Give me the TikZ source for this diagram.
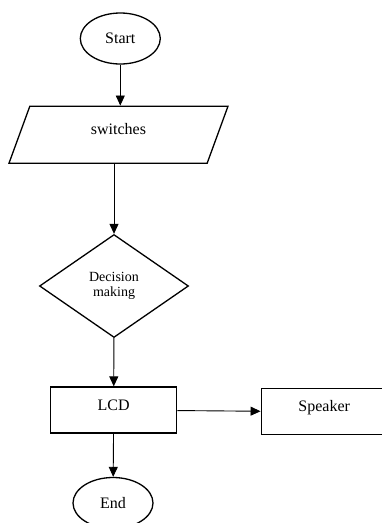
\documentclass[tikz,border=0pt]{standalone}
\usepackage{fontspec}
\setmainfont{Liberation Serif}
\usetikzlibrary{shapes.geometric,arrows.meta}

\begin{document}
\begin{tikzpicture}[x=1pt,y=-1pt,
  every node/.style={draw,line width=1.3pt,font=\fontsize{16}{19}\selectfont},
  terminal/.style={ellipse,minimum width=80pt,minimum height=51pt,inner sep=0pt},
  io/.style={trapezium,trapezium left angle=52,trapezium right angle=128,
    minimum width=219pt,minimum height=57pt,trapezium stretches body,
    text height=10pt,text depth=10pt},
  decision/.style={diamond,minimum width=149pt,minimum height=103pt,inner sep=0pt,
    align=center,font=\fontsize{14}{15.7}\selectfont},
  block/.style={rectangle,minimum width=126pt,minimum height=46pt,
    text height=10pt,text depth=10pt},
  flow/.style={line width=0.9pt,-{Triangle[length=10pt,width=9pt]}}]

  \useasboundingbox (0,0) rectangle (381,523);

  % main column
  \node[terminal] (Start) at (120.3,38.5) {Start};
  \node[io] (Sw) at (118.5,134.7) {switches};
  \node[decision] (Dec) at (114,286) {Decision\\making};
  \node[block] (LCD) at (113.7,410) {LCD};
  \node[terminal] (End) at (113,503) {End};
  % output
  \node[block] (Spk) at (324.2,411.8) {Speaker};

  % connections
  \draw[flow] (Start.south) -- (Start.south |- Sw.north);
  \draw[flow] (Sw.south -| Dec.north) -- (Dec.north);
  \draw[flow] (Dec) -- (LCD);
  \draw[flow] (LCD) -- (Spk);
  \draw[flow] (LCD) -- (End);
\end{tikzpicture}
\end{document}
